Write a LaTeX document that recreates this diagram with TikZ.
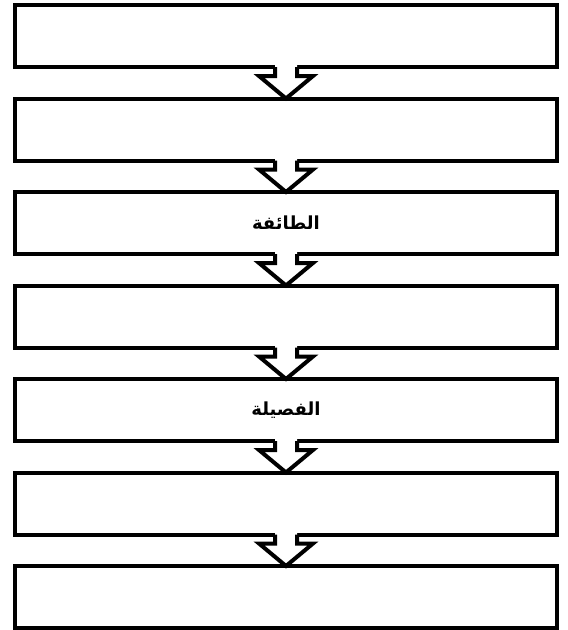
\documentclass[tikz,border=0pt]{standalone}
\usepackage{fontspec}
\usetikzlibrary{positioning}
\TeXXeTstate=1
\newfontfamily\arabicfont[Script=Arabic]{DejaVu Sans}

\tikzset{
  rank/.style={draw, line width=4pt, minimum width=542pt, minimum height=62pt, outer sep=0pt, inner sep=0pt, fill=white, font=\arabicfont\bfseries\fontsize{18}{20}\selectfont},
  arrowline/.style={line width=4pt, line join=miter}
}

% hollow down arrow between two ranks
\newcommand{\rankarrow}[2]{%
\fill[white] ([xshift=-11pt,yshift=3pt]#1.south) -- ([xshift=-11pt,yshift=-9pt]#1.south) -- ([xshift=-27pt,yshift=-9pt]#1.south) -- (#2.north) -- ([xshift=27pt,yshift=-9pt]#1.south) -- ([xshift=11pt,yshift=-9pt]#1.south) -- ([xshift=11pt,yshift=3pt]#1.south) -- cycle;
\draw[arrowline] ([xshift=-11pt]#1.south) -- ([xshift=-11pt,yshift=-9pt]#1.south) -- ([xshift=-27pt,yshift=-9pt]#1.south) -- (#2.north) -- ([xshift=27pt,yshift=-9pt]#1.south) -- ([xshift=11pt,yshift=-9pt]#1.south) -- ([xshift=11pt]#1.south);
}

\begin{document}
\begin{tikzpicture}[x=1pt, y=1pt, node distance=31.5pt]
\useasboundingbox (0,0) rectangle (568,-630);

% Ranks
\node[rank] (kingdom) at (286,-36) {};
\node[rank, below=of kingdom] (phylum) {};
\node[rank, below=of phylum] (class) {\beginR الطائفة\endR};
\node[rank, below=of class] (order) {};
\node[rank, below=of order] (family) {\beginR الفصيلة\endR};
\node[rank, below=of family] (genus) {};
\node[rank, below=of genus] (species) {};

% Arrows
\rankarrow{kingdom}{phylum}
\rankarrow{phylum}{class}
\rankarrow{class}{order}
\rankarrow{order}{family}
\rankarrow{family}{genus}
\rankarrow{genus}{species}
\end{tikzpicture}
\end{document}
